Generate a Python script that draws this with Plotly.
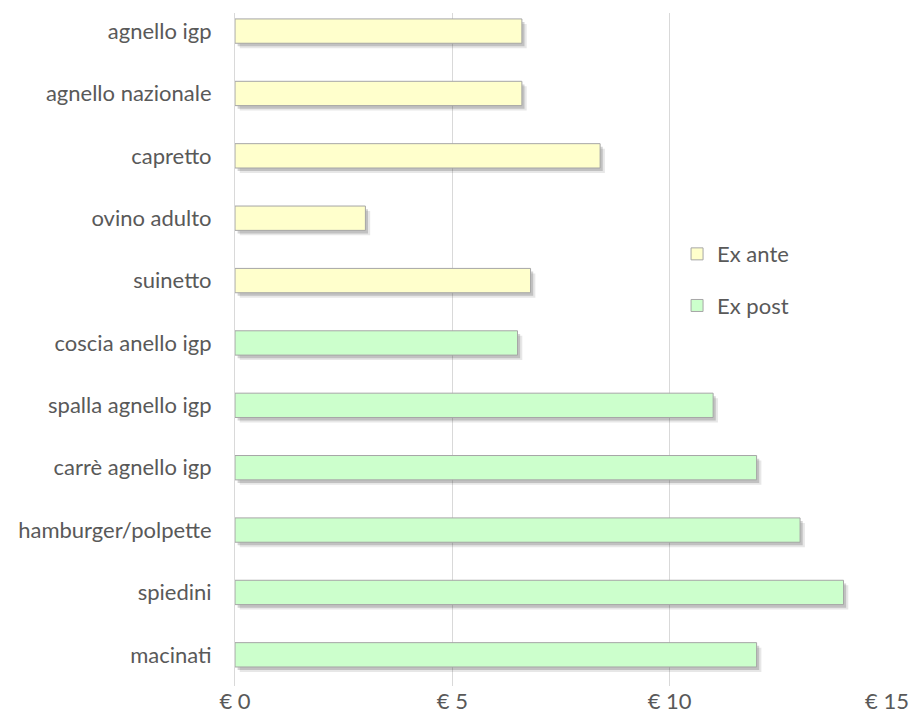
import plotly.graph_objects as go

categories_ante = ["agnello igp", "agnello nazionale", "capretto", "ovino adulto", "suinetto"]
values_ante = [6.6, 6.6, 8.4, 3.0, 6.8]

categories_post = ["coscia anello igp", "spalla agnello igp", "carrè agnello igp",
                   "hamburger/polpette", "spiedini", "macinati"]
values_post = [6.5, 11.0, 12.0, 13.0, 14.0, 12.0]

all_categories = categories_ante + categories_post
tick_values = [0, 5, 10, 15]
tick_labels = ["€ 0", "€ 5", "€ 10", "€ 15"]

BAR_W = 0.39
FONT = "Lato, 'Open Sans', sans-serif"
TXT = "#595959"
FS = 22

fig = go.Figure()

# soft shadows beneath the bars (two layers for a blurred look)
for dx, dy, alpha in [(0.11, 0.08, 0.12), (0.06, 0.05, 0.22)]:
    for cats, vals in [(categories_ante, values_ante), (categories_post, values_post)]:
        fig.add_trace(go.Bar(
            y=cats, x=[v for v in vals], base=dx, orientation="h",
            width=BAR_W, offset=-BAR_W / 2 + dy,
            marker=dict(color=f"rgba(60,60,60,{alpha})", line=dict(width=0)),
            showlegend=False, hoverinfo="skip",
        ))

fig.add_trace(go.Bar(
    y=categories_ante, x=values_ante, orientation="h", name="Ex ante",
    width=BAR_W, offset=-BAR_W / 2, legendgroup="a",
    marker=dict(color="#FFFFCC", line=dict(color="#A6A6A6", width=1)),
))
fig.add_trace(go.Bar(
    y=categories_post, x=values_post, orientation="h", name="Ex post",
    width=BAR_W, offset=-BAR_W / 2, legendgroup="b",
    marker=dict(color="#CCFFCC", line=dict(color="#A6A6A6", width=1)),
))

fig.update_layout(
    width=911, height=713,
    margin=dict(l=235, r=24, t=13, b=27),
    barmode="overlay",
    plot_bgcolor="white", paper_bgcolor="white",
    font=dict(family=FONT, size=FS, color=TXT),
    legend=dict(
        x=0.678, y=0.673, xanchor="left", yanchor="top",
        bgcolor="rgba(255,255,255,0)", traceorder="grouped", tracegroupgap=20,
        font=dict(size=FS, color=TXT),
    ),
    shapes=[dict(
        type="rect", xref="paper", yref="paper", layer="between",
        x0=0.64, x1=0.68, y0=0.515, y1=0.688,
        fillcolor="white", line=dict(width=0),
    )],
    xaxis=dict(
        range=[0, 15], tickvals=tick_values, ticktext=tick_labels,
        showgrid=True, gridcolor="#D9D9D9", gridwidth=1, automargin=False,
        zeroline=False, showline=False, ticks="", ticklen=0,
        tickfont=dict(size=FS, color=TXT),
    ),
    yaxis=dict(
        categoryorder="array", categoryarray=all_categories,
        range=[10.5, -0.29], showgrid=False, zeroline=False, automargin=False,
        showline=True, linecolor="#D9D9D9", linewidth=1,
        ticks="", ticklen=0, ticklabelstandoff=18,
        tickfont=dict(size=FS, color=TXT),
    ),
)

fig.write_html("out.html", config={"displayModeBar": False},
               post_script="document.body.style.margin='0';")
